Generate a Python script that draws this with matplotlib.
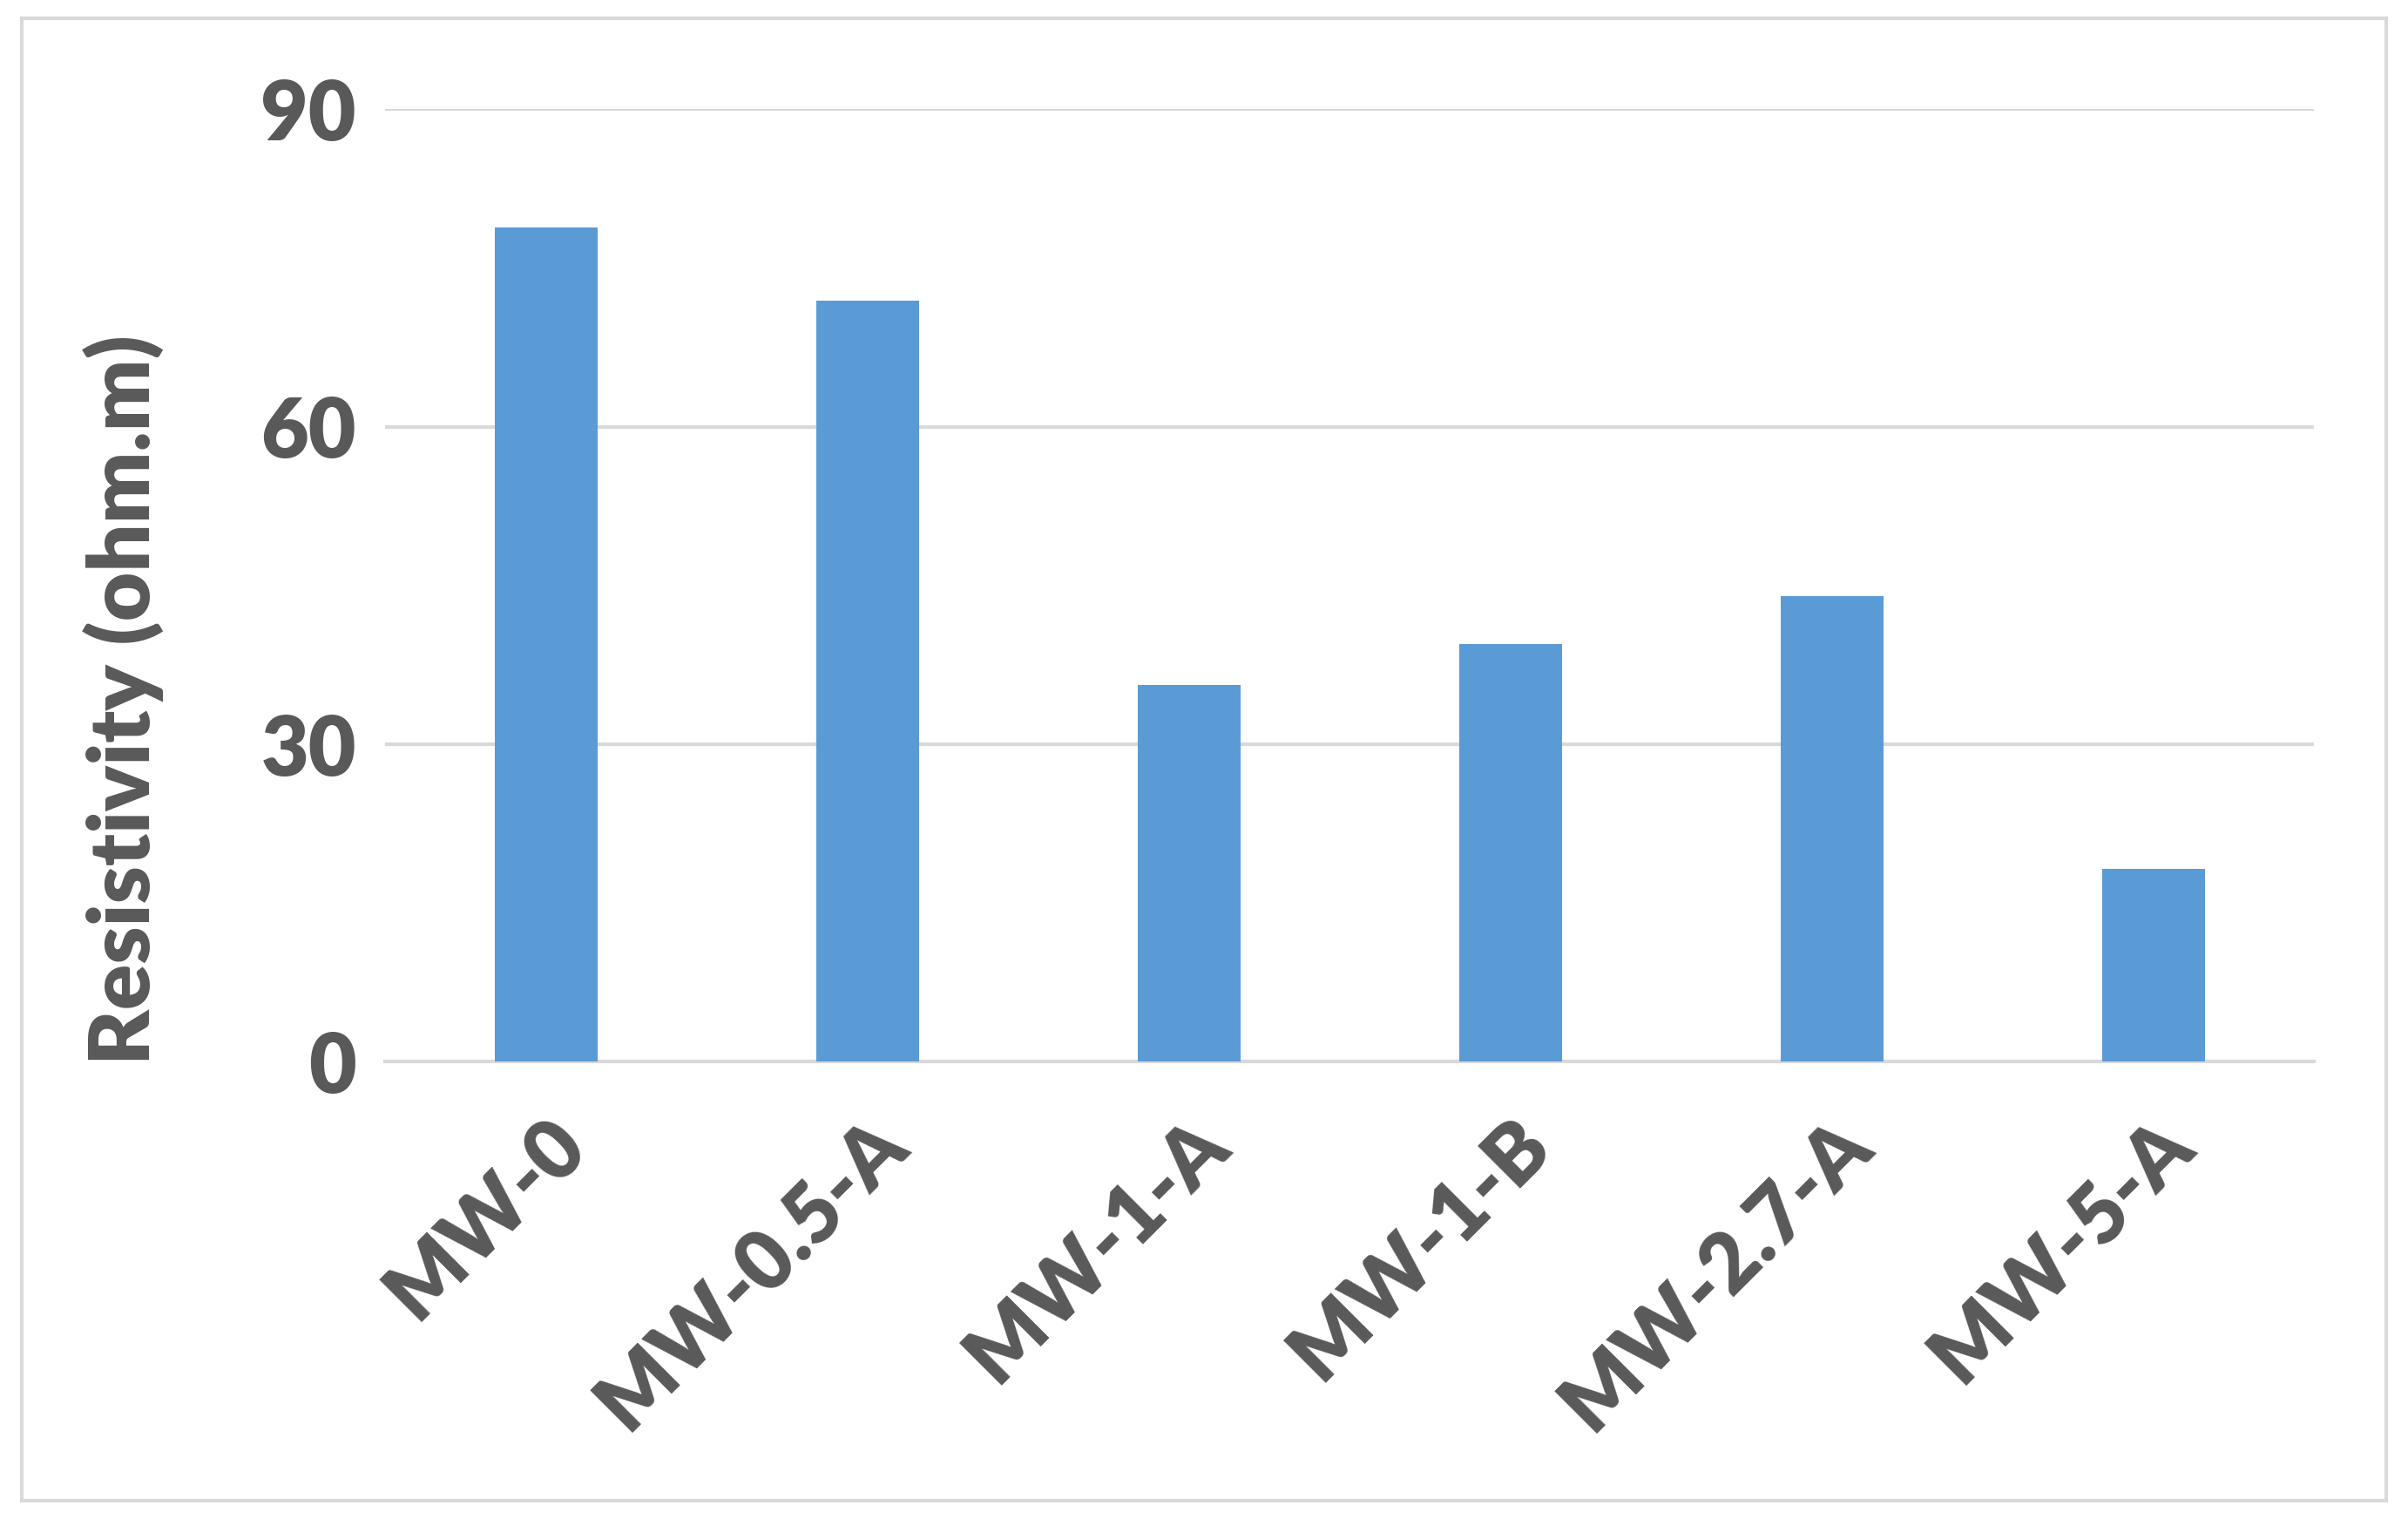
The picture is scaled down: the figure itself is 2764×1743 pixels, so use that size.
import matplotlib
matplotlib.use("Agg")
import matplotlib.pyplot as plt
from matplotlib.patches import Rectangle

samples = ["MW-0", "MW-0.5-A", "MW-1-A", "MW-1-B", "MW-2.7-A", "MW-5-A"]
resistivity = [78.8, 71.9, 35.6, 39.5, 44.0, 18.2]
yticks = [0, 30, 60, 90]

plt.rcParams['font.family'] = ['Lato', 'DejaVu Sans']
grey = '#595959'

fig = plt.figure(figsize=(13.82, 8.715), dpi=200)
fig.patches.append(Rectangle((0.009, 0.012), 0.982, 0.976, transform=fig.transFigure,
                             fill=False, edgecolor='#d9d9d9', linewidth=1.5))
ax = fig.add_axes([0.160, 0.301, 0.807 - 0.006, 0.627])

x = range(len(samples))
ax.bar(x, resistivity, width=0.32, color='#5b9bd5', zorder=3)
ax.set_xlim(-0.5, len(samples) - 0.5)
ax.set_ylim(0, 90)
ax.set_yticks(yticks)
ax.grid(axis='y', color='#d9d9d9', linewidth=1.5, zorder=0)
ax.set_xticks(list(x))
ax.set_xticklabels(samples, rotation=45, ha='right', rotation_mode='anchor',
                   fontsize=34, fontweight='heavy', color=grey)
for lab in ax.get_yticklabels():
    lab.set_fontsize(34)
    lab.set_fontweight('heavy')
    lab.set_color(grey)
ax.tick_params(length=0, pad=12)
ax.tick_params(axis='x', pad=18)
for s in ['top', 'right', 'left']:
    ax.spines[s].set_visible(False)
ax.spines['bottom'].set_color('#d9d9d9')
ax.spines['bottom'].set_linewidth(1.5)
ax.set_ylabel("Resistivity (ohm.m)", fontsize=35, fontweight='heavy', color=grey,
              labelpad=16)
ax.yaxis.set_label_coords(-0.115, 0.38)

fig.savefig("out.png", dpi=200)
